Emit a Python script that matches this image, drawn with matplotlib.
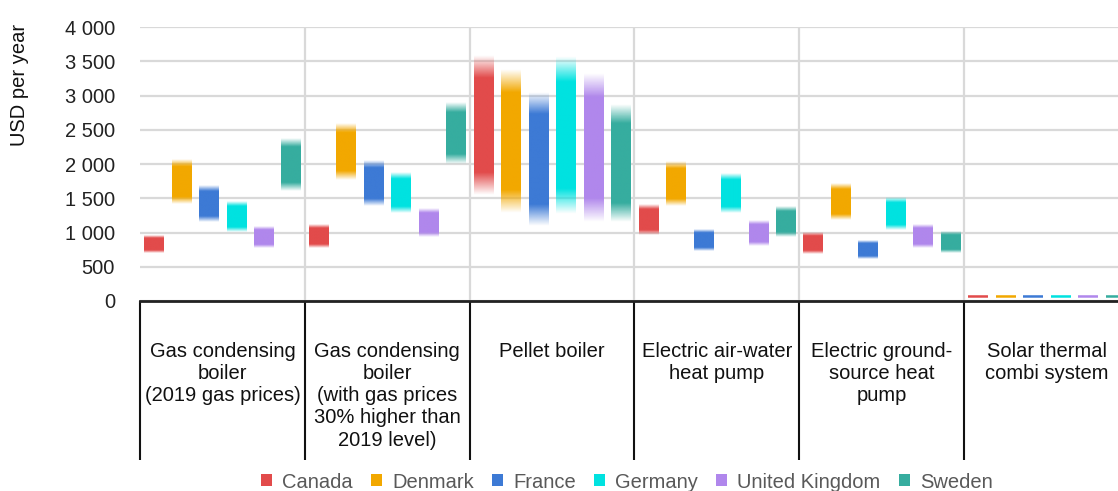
import numpy as np
import matplotlib.pyplot as plt
from matplotlib.patches import Patch
from matplotlib.colors import to_rgb
from matplotlib.ticker import FuncFormatter

plt.rcParams['font.family'] = ['Liberation Sans', 'DejaVu Sans']

# ---- datos ----
categories = ['Gas condensing\nboiler\n(2019 gas prices)',
              'Gas condensing\nboiler\n(with gas prices\n30% higher than\n2019 level)',
              'Pellet boiler',
              'Electric air-water\nheat pump',
              'Electric ground-\nsource heat\npump',
              'Solar thermal\ncombi system']
countries = ['Canada', 'Denmark', 'France', 'Germany', 'United Kingdom', 'Sweden']
colors = ['#E24B4B', '#F2A800', '#3D7AD5', '#00E2E0', '#B087EC', '#36AD9F']

canada_lo = [700, 780, 1550, 960, 690, 40]
canada_hi = [960, 1130, 3580, 1400, 1000, 70]
denmark_lo = [1410, 1770, 1280, 1380, 1180, 40]
denmark_hi = [2060, 2600, 3380, 2030, 1720, 70]
france_lo = [1150, 1390, 1100, 730, 620, 40]
france_hi = [1690, 2060, 3050, 1050, 890, 70]
germany_lo = [1000, 1290, 1270, 1280, 1030, 40]
germany_hi = [1450, 1880, 3570, 1850, 1500, 70]
uk_lo = [770, 930, 1150, 800, 770, 40]
uk_hi = [1090, 1340, 3320, 1170, 1120, 70]
sweden_lo = [1600, 2000, 1150, 940, 700, 40]
sweden_hi = [2360, 2900, 2860, 1390, 1020, 70]

lows = [canada_lo, denmark_lo, france_lo, germany_lo, uk_lo, sweden_lo]
highs = [canada_hi, denmark_hi, france_hi, germany_hi, uk_hi, sweden_hi]

fig = plt.figure(figsize=(11.18, 4.91), dpi=100)
ax = fig.add_axes([140/1118, 190/491, 989/1118, 274/491])

# barra con degradado en los extremos
def grad_bar(x0, x1, lo, hi, col, fade=0.16):
    t = np.linspace(0, 1, 200)
    a = np.clip(np.minimum(t, 1 - t) / fade, 0, 1)
    img = np.zeros((200, 1, 4))
    img[:, 0, :3] = to_rgb(col)
    img[:, 0, 3] = a
    ax.imshow(img, extent=[x0, x1, lo, hi], origin='lower', aspect='auto',
              interpolation='bilinear', zorder=3)

ng = len(categories)
nc = len(countries)
w = 0.7 / nc
for i in range(nc):
    for g in range(ng):
        xc = g + (i + 0.5) / nc
        grad_bar(xc - w/2, xc + w/2, lows[i][g], highs[i][g], colors[i])

ax.set_xlim(0, ng)
ax.set_ylim(0, 4000)
ax.set_yticks(np.arange(0, 4001, 500))
ax.yaxis.set_major_formatter(FuncFormatter(lambda v, p: f"{int(v):,}".replace(",", " ")))
ax.tick_params(axis='y', length=0, pad=18, labelsize=14.5, labelcolor='#222222')
ax.set_xticks([])
ax.grid(axis='y', color='#D9D9D9', lw=1.6, zorder=0)
ax.set_axisbelow(True)
for s in ['top', 'right', 'left']:
    ax.spines[s].set_visible(False)
ax.spines['bottom'].set_color('#222222')
ax.spines['bottom'].set_linewidth(2)
ax.spines['bottom'].set_zorder(4)

# separadores de grupos
tr = ax.get_xaxis_transform()
ax.vlines(range(1, ng), 0, 1, transform=tr, color='#D9D9D9', lw=1.6, zorder=1)
ax.vlines(range(0, ng + 1), -0.58, 0, transform=tr, color='#111111', lw=1.5, clip_on=False)

for g, lab in enumerate(categories):
    ax.text(g + 0.5, -0.148, lab, transform=tr, ha='center', va='top',
            fontsize=14.5, linespacing=1.22, color='#111111')

fig.text(20/1118, 1 - 85/491, 'USD per year', rotation=90, ha='center', va='center',
         fontsize=14.5, color='#111111')

handles = [Patch(facecolor=c, edgecolor='none') for c in colors]
fig.legend(handles, countries, loc='center', bbox_to_anchor=(627/1118, 9/491), ncol=6,
           frameon=False, fontsize=14.5, handlelength=0.55, handleheight=0.55,
           handletextpad=0.5, columnspacing=0.9, labelcolor='#595959')

fig.savefig('out.png', dpi=100)
